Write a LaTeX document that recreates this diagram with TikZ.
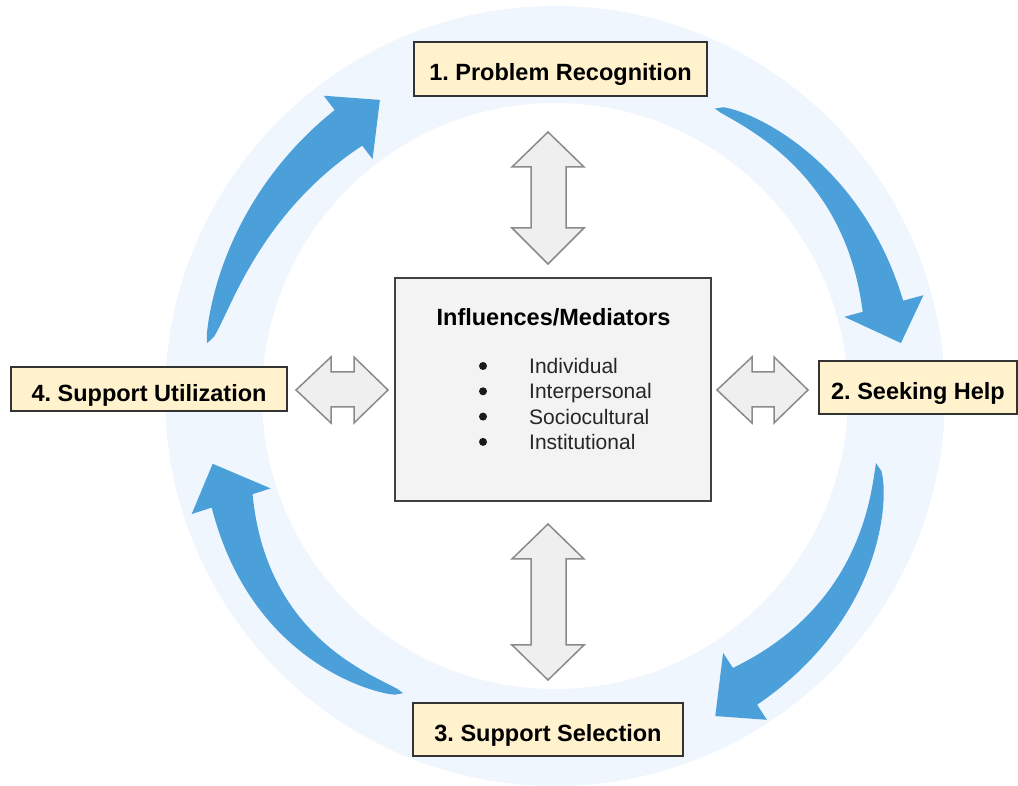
\documentclass[tikz,border=0pt]{standalone}
\usepackage{fontspec}
\setmainfont{Liberation Sans}
\frenchspacing
\definecolor{ringblue}{RGB}{240,246,253}
\definecolor{flowblue}{RGB}{75,160,218}
\definecolor{stagefill}{RGB}{255,242,204}
\definecolor{hubfill}{RGB}{243,243,243}
\definecolor{twowayfill}{RGB}{239,239,239}
\definecolor{twowayline}{RGB}{138,138,138}
\tikzset{
	stagebox/.style={draw=black!80, line width=2pt, fill=stagefill, inner sep=0pt,
		text height=24pt, text depth=0pt, font=\fontsize{23.5}{28}\selectfont\bfseries},
	hubbox/.style={draw=black!75, line width=2pt, fill=hubfill, minimum width=316pt, minimum height=223pt},
	hubtitle/.style={font=\fontsize{23.5}{28}\selectfont\bfseries, inner sep=0pt},
	itemtext/.style={font=\fontsize{21}{25}\selectfont, text=black!85, inner sep=0pt},
	dotmark/.style={circle, fill=black!90, inner sep=0pt, minimum size=8pt},
	twoway/.style={draw=twowayline, line width=1.5pt, fill=twowayfill, line join=miter},
	flowarrow/.style={fill=flowblue},
}

\begin{document}
\begin{tikzpicture}[x=1pt,y=1pt]
	\useasboundingbox (0,0) rectangle (1018,786);
	% draw ring
	\coordinate (c) at (555,390);
	\fill[ringblue,even odd rule] (c) circle (390) (c) circle (293);
	% draw flow arrows
	\fill[flowarrow,shift={(c)}] plot[domain=0:1,samples=40] ({171.3-43.7*\x}:{352+9*sqrt(\x)})
		-- (127.6:379) -- (120.6:344) -- (127.6:299)
		-- plot[domain=1:0,samples=40] ({171.3-43.7*\x}:{352-36*sqrt(\x)}) -- cycle;
	\fill[flowarrow,shift={(c)}] plot[domain=0:1,samples=40] ({60.9-45.6*\x}:{329+32*sqrt(\x)+3*sin(180*\x)})
		-- (15.3:382) -- (8.7:350) -- (15.3:300)
		-- plot[domain=1:0,samples=40] ({60.9-45.6*\x}:{329-10*sqrt(\x)+10*sin(180*\x)}) -- cycle;
	\fill[flowarrow,shift={(c)}] plot[domain=0:1,samples=40] ({-11.8-45*\x}:{328+41*sqrt(\x)+5*sin(180*\x)})
		-- (-56.8:387) -- (-63.4:358) -- (-56.8:307)
		-- plot[domain=1:0,samples=40] ({-11.8-45*\x}:{328-3*sqrt(\x)+10*sin(180*\x)}) -- cycle;
	\fill[flowarrow,shift={(c)}] plot[domain=0:1,samples=40] ({242.9-44.9*\x}:{334+27*sqrt(\x)+10*sin(180*\x)})
		-- (198:382) -- (191.2:349) -- (198:299)
		-- plot[domain=1:0,samples=40] ({242.9-44.9*\x}:{334-16*sqrt(\x)+15*sin(180*\x)}) -- cycle;
	% draw stages
	\node[stagebox, minimum width=293pt, minimum height=54pt] (rec) at (560.5,717) {1. Problem Recognition};
	\node[stagebox, minimum width=198pt, minimum height=53pt] (help) at (918,398.5) {2. Seeking Help};
	\node[stagebox, minimum width=270pt, minimum height=53pt] (sel) at (548,56.5) {3. Support Selection};
	\node[stagebox, minimum width=276pt, minimum height=44pt] (util) at (149,396.5) {4. Support Utilization};
	% draw influences box
	\node[hubbox] (infl) at (553,396.5) {};
	\node[hubtitle, anchor=base] (title) at (553.5,460.6) {Influences/Mediators};
	\foreach \name [count=\i] in {Individual,Interpersonal,Sociocultural,Institutional} {
		\node[dotmark] (dot\i) at (483,{420-25.3*(\i-1)}) {};
		\node[itemtext, anchor=base west] (item\i) at (529,{412.5-25.3*(\i-1)}) {\name};
	}
	% draw two-way arrows
	\draw[twoway] (548,654) -- (584,619) -- (566,619) -- (566,558) -- (584,558) -- (548,522)
		-- (512,558) -- (531,558) -- (531,619) -- (512,619) -- cycle;
	\draw[twoway] (548,262) -- (584,227) -- (566,227) -- (566,141) -- (584,141) -- (548,106)
		-- (512,141) -- (531,141) -- (531,227) -- (512,227) -- cycle;
	\draw[twoway] (296,396) -- (331,429) -- (331,414) -- (354,414) -- (354,429) -- (388,396)
		-- (354,363) -- (354,379) -- (331,379) -- (331,363) -- cycle;
	\draw[twoway] (717,396) -- (752,429) -- (752,414) -- (774,414) -- (774,429) -- (808,396)
		-- (774,363) -- (774,379) -- (752,379) -- (752,363) -- cycle;
\end{tikzpicture}
\end{document}
